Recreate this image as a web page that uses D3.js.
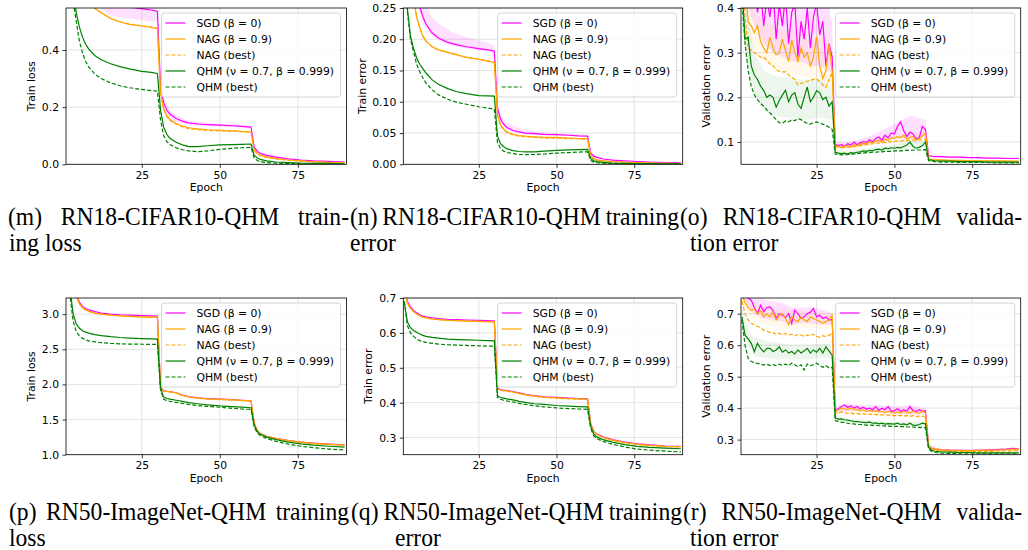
<!DOCTYPE html>
<html>
<head>
<meta charset="utf-8">
<script src="https://cdn.jsdelivr.net/npm/d3@7"></script>
<style>
  body { margin: 0; background: #fff; }
  svg { display: block; }
</style>
</head>
<body>
<script>
// ---- data ----
var seriesLabels = ["SGD (β = 0)", "NAG (β = 0.9)", "NAG (best)", "QHM (ν = 0.7, β = 0.999)", "QHM (best)"];
var xTicks = [25, 50, 75];

// training curves: sampled epochs
var smoothEpochs = [1,2,3,4,5,6,7,8, 10,12,15,18,21,25,28,30, 31,32,33,34,36,38,40,43, 46,50,54,57,60, 61,62,63,65,68,72,76,80, 85,90];

// (m) RN18-CIFAR10 train loss
var c10LossSGD = [1.6,1.15,0.95,0.84,0.76,0.71,0.67,0.64, 0.61,0.59,0.56,0.553,0.55,0.545,0.54,0.535, 0.27,0.215,0.19,0.176,0.16,0.151,0.145,0.141, 0.139,0.137,0.135,0.133,0.13, 0.06,0.045,0.038,0.031,0.025,0.019,0.015,0.012, 0.01,0.008];
var c10LossNAG = [1.4,1.0,0.84,0.74,0.68,0.64,0.61,0.585, 0.545,0.53,0.51,0.498,0.49,0.484,0.479,0.475, 0.25,0.195,0.17,0.157,0.143,0.134,0.128,0.124, 0.121,0.119,0.117,0.115,0.113, 0.05,0.038,0.032,0.026,0.02,0.015,0.012,0.009, 0.007,0.006];
var c10LossNAGBest = [1.4,1.0,0.84,0.74,0.68,0.64,0.61,0.585, 0.546,0.531,0.511,0.499,0.491,0.485,0.48,0.476, 0.248,0.192,0.167,0.154,0.14,0.131,0.125,0.121, 0.119,0.117,0.116,0.114,0.112, 0.048,0.036,0.03,0.024,0.019,0.014,0.011,0.008, 0.006,0.005];
var c10LossQHM = [1.1,0.78,0.62,0.53,0.48,0.445,0.42,0.403, 0.38,0.366,0.352,0.342,0.334,0.325,0.322,0.318, 0.19,0.13,0.105,0.091,0.077,0.068,0.062,0.062, 0.065,0.068,0.069,0.07,0.071, 0.032,0.022,0.017,0.012,0.008,0.006,0.004,0.003, 0.003,0.002];
var c10LossQHMBest = [1.05,0.74,0.57,0.5,0.43,0.39,0.36,0.34, 0.315,0.3,0.285,0.275,0.268,0.262,0.258,0.256, 0.155,0.1,0.08,0.069,0.058,0.051,0.047,0.044, 0.047,0.052,0.056,0.058,0.059, 0.022,0.013,0.009,0.006,0.004,0.003,0.002,0.002, 0.001,0.001];
var c10LossBandEpochs = [10,15,20,25,28,30,31,32,34,36,40,45,50,55,60,61,63,70];
var c10LossSGDLo = [0.56,0.52,0.51,0.505,0.5,0.5,0.25,0.19,0.16,0.147,0.138,0.133,0.132,0.13,0.127,0.055,0.035,0.022];
var c10LossSGDHi = [0.66,0.6,0.59,0.585,0.58,0.565,0.29,0.235,0.19,0.172,0.152,0.146,0.142,0.14,0.135,0.065,0.041,0.027];

// (n) RN18-CIFAR10 train error
var c10ErrSGD = [0.6,0.45,0.36,0.31,0.275,0.252,0.236,0.224, 0.21,0.202,0.195,0.191,0.188,0.185,0.183,0.181, 0.09,0.072,0.064,0.059,0.054,0.052,0.05,0.049, 0.048,0.0475,0.0465,0.0455,0.045, 0.018,0.013,0.011,0.0085,0.0068,0.0055,0.0045,0.0035, 0.0028,0.0022];
var c10ErrNAG = [0.55,0.4,0.32,0.265,0.236,0.218,0.205,0.197, 0.188,0.183,0.179,0.175,0.171,0.168,0.165,0.163, 0.08,0.063,0.056,0.052,0.048,0.046,0.045,0.044, 0.043,0.043,0.042,0.041,0.041, 0.014,0.009,0.007,0.0055,0.0042,0.0033,0.0026,0.002, 0.0016,0.0013];
var c10ErrNAGBest = [0.55,0.4,0.32,0.265,0.236,0.218,0.205,0.197, 0.188,0.183,0.179,0.175,0.171,0.168,0.165,0.163, 0.079,0.062,0.055,0.051,0.047,0.045,0.044,0.043, 0.042,0.042,0.041,0.041,0.04, 0.013,0.0085,0.0065,0.005,0.004,0.003,0.0024,0.0019, 0.0015,0.0012];
var c10ErrQHM = [0.36,0.25,0.205,0.185,0.17,0.16,0.153,0.146, 0.135,0.128,0.121,0.116,0.113,0.11,0.1095,0.109, 0.045,0.033,0.028,0.025,0.022,0.0205,0.0198,0.02, 0.021,0.0223,0.023,0.0235,0.024, 0.009,0.0055,0.0042,0.003,0.002,0.0015,0.0012,0.001, 0.0008,0.0006];
var c10ErrQHMBest = [0.35,0.245,0.2,0.18,0.16,0.148,0.138,0.13, 0.119,0.111,0.104,0.099,0.096,0.092,0.09,0.088, 0.035,0.025,0.021,0.019,0.017,0.016,0.0155,0.0158, 0.0165,0.0178,0.0188,0.0195,0.02, 0.006,0.0035,0.0026,0.0018,0.0012,0.0009,0.0007,0.0005, 0.0004,0.0003];
var c10ErrBandEpochs = [5,7,10,13,16,20,25,28,30,31,32,34,37,40,45,50,55,60,61,63,70];
var c10ErrSGDLo = [0.26,0.225,0.205,0.196,0.19,0.186,0.182,0.18,0.178,0.085,0.068,0.056,0.05,0.048,0.046,0.046,0.045,0.044,0.017,0.01,0.005];
var c10ErrSGDHi = [0.30,0.265,0.235,0.222,0.212,0.205,0.198,0.194,0.19,0.1,0.08,0.067,0.06,0.055,0.052,0.05,0.048,0.047,0.02,0.012,0.006];

// (p) RN50-ImageNet train loss
var inLossSGD = [5.2,4.1,3.55,3.28,3.17,3.11,3.08,3.06, 3.035,3.015,3.0,2.99,2.985,2.98,2.975,2.972, 1.97,1.91,1.903,1.898,1.882,1.848,1.828,1.808, 1.798,1.79,1.783,1.775,1.768, 1.45,1.34,1.3,1.262,1.232,1.202,1.18,1.164, 1.15,1.14];
var inLossNAG = [5.1,4.0,3.5,3.26,3.15,3.09,3.06,3.04, 3.015,3.0,2.985,2.975,2.968,2.962,2.958,2.955, 1.96,1.905,1.9,1.895,1.88,1.845,1.825,1.805, 1.795,1.787,1.78,1.772,1.765, 1.45,1.34,1.3,1.26,1.23,1.2,1.178,1.162, 1.148,1.138];
var inLossNAGBest = [5.1,4.0,3.5,3.26,3.15,3.09,3.06,3.04, 3.015,3.0,2.985,2.975,2.968,2.962,2.958,2.955, 1.958,1.903,1.898,1.893,1.878,1.843,1.823,1.803, 1.793,1.785,1.778,1.77,1.763, 1.448,1.338,1.298,1.258,1.228,1.198,1.176,1.16, 1.146,1.136];
var inLossQHM = [4.2,3.35,3.0,2.86,2.8,2.765,2.745,2.73, 2.71,2.695,2.68,2.668,2.66,2.652,2.648,2.645, 1.95,1.82,1.8,1.79,1.775,1.758,1.742,1.725, 1.71,1.695,1.685,1.677,1.668, 1.42,1.33,1.29,1.25,1.215,1.18,1.155,1.135, 1.12,1.108];
var inLossQHMBest = [4.0,3.25,2.9,2.75,2.69,2.655,2.635,2.62, 2.605,2.595,2.585,2.578,2.574,2.572,2.57,2.569, 1.92,1.79,1.77,1.76,1.745,1.73,1.715,1.7, 1.688,1.675,1.66,1.65,1.643, 1.4,1.31,1.27,1.23,1.19,1.15,1.12,1.1, 1.08,1.066];

// (q) RN50-ImageNet train error
var inErrSGD = [0.74,0.69,0.675,0.664,0.658,0.652,0.648,0.646, 0.643,0.641,0.639,0.638,0.637,0.636,0.635,0.634, 0.442,0.437,0.436,0.435,0.432,0.428,0.424,0.42, 0.417,0.415,0.413,0.412,0.411, 0.34,0.318,0.31,0.302,0.294,0.287,0.282,0.279, 0.276,0.275];
var inErrNAG = [0.73,0.685,0.67,0.661,0.654,0.649,0.645,0.643, 0.64,0.638,0.636,0.635,0.634,0.633,0.632,0.631, 0.44,0.436,0.435,0.434,0.431,0.427,0.423,0.419, 0.416,0.414,0.412,0.411,0.41, 0.338,0.317,0.309,0.301,0.293,0.286,0.281,0.278, 0.275,0.274];
var inErrNAGBest = [0.73,0.685,0.67,0.661,0.654,0.649,0.645,0.643, 0.64,0.638,0.636,0.635,0.634,0.633,0.632,0.631, 0.439,0.435,0.434,0.433,0.43,0.426,0.422,0.418, 0.415,0.413,0.411,0.41,0.409, 0.337,0.316,0.308,0.3,0.292,0.285,0.28,0.277, 0.274,0.273];
var inErrQHM = [0.69,0.632,0.615,0.607,0.602,0.597,0.593,0.59, 0.587,0.585,0.582,0.581,0.58,0.579,0.578,0.577, 0.42,0.415,0.413,0.411,0.408,0.404,0.401,0.397, 0.395,0.392,0.39,0.389,0.388, 0.332,0.31,0.302,0.294,0.287,0.28,0.275,0.272, 0.27,0.268];
var inErrQHMBest = [0.69,0.622,0.6,0.59,0.583,0.578,0.575,0.573, 0.57,0.568,0.566,0.565,0.564,0.563,0.562,0.562, 0.415,0.41,0.407,0.405,0.402,0.398,0.395,0.391, 0.388,0.385,0.383,0.382,0.381, 0.326,0.305,0.297,0.289,0.281,0.273,0.267,0.264, 0.261,0.259];

// validation curves: every epoch up to 60, sparser after
var valEpochs = [1,2,3,4,5,6,7,8,9,10, 11,12,13,14,15,16,17,18,19,20, 21,22,23,24,25,26,27,28,29,30,
  31,32,33,34,35,36,37,38,39,40, 41,42,43,44,45,46,47,48,49,50, 51,52,53,54,55,56,57,58,59,60,
  61,62,63,65,68,71,74,77,80,83,86,88,90];
var valBandEpochs = [1,3,5,8,11,14,17,20,23,26,29,30,31,35,40,45,50,55,60,61,65,75,90];

// (o) RN18-CIFAR10 validation error
var c10ValSGD = [0.66,0.55,0.47,0.43,0.45,0.39,0.44,0.36,0.42,0.38, 0.44,0.33,0.41,0.36,0.43,0.32,0.39,0.41,0.29,0.37, 0.33,0.40,0.31,0.38,0.41,0.34,0.37,0.27,0.32,0.29,
  0.095,0.092,0.094,0.09,0.096,0.093,0.1,0.094,0.098,0.101, 0.099,0.105,0.1,0.108,0.111,0.104,0.115,0.109,0.12,0.118, 0.135,0.145,0.125,0.112,0.122,0.118,0.107,0.11,0.135,0.128,
  0.069,0.068,0.067,0.067,0.066,0.066,0.065,0.065,0.064,0.064,0.063,0.063,0.063];
var c10ValNAG = [0.6,0.46,0.37,0.36,0.345,0.36,0.325,0.31,0.30,0.335, 0.31,0.295,0.30,0.33,0.305,0.28,0.328,0.30,0.28,0.31, 0.29,0.30,0.27,0.29,0.336,0.27,0.242,0.26,0.32,0.26,
  0.092,0.09,0.088,0.09,0.092,0.089,0.094,0.092,0.095,0.097, 0.096,0.1,0.098,0.102,0.104,0.1,0.106,0.103,0.109,0.108, 0.112,0.11,0.115,0.106,0.11,0.112,0.104,0.108,0.114,0.12,
  0.062,0.061,0.06,0.06,0.059,0.059,0.058,0.058,0.058,0.058,0.057,0.057,0.057];
var c10ValNAGBest = [0.55,0.38,0.31,0.306,0.30,0.295,0.29,0.29,0.283,0.275, 0.27,0.262,0.258,0.257,0.257,0.25,0.245,0.24,0.228,0.232, 0.232,0.236,0.238,0.24,0.242,0.235,0.228,0.222,0.24,0.255,
  0.09,0.088,0.087,0.088,0.089,0.088,0.09,0.091,0.092,0.093, 0.094,0.095,0.096,0.097,0.098,0.098,0.099,0.1,0.1,0.101, 0.102,0.102,0.103,0.103,0.104,0.104,0.104,0.105,0.105,0.106,
  0.061,0.06,0.059,0.059,0.058,0.058,0.058,0.057,0.057,0.057,0.057,0.056,0.056];
var c10ValQHM = [0.45,0.33,0.335,0.27,0.25,0.24,0.225,0.215,0.2,0.205, 0.2,0.178,0.193,0.205,0.216,0.19,0.205,0.21,0.185,0.175, 0.2,0.223,0.19,0.2,0.215,0.21,0.195,0.2,0.18,0.19,
  0.077,0.075,0.074,0.075,0.073,0.076,0.075,0.077,0.078,0.08, 0.079,0.081,0.08,0.083,0.084,0.082,0.086,0.085,0.087,0.086, 0.088,0.087,0.09,0.093,0.1,0.09,0.086,0.088,0.092,0.1,
  0.06,0.059,0.058,0.057,0.057,0.056,0.056,0.056,0.055,0.055,0.055,0.055,0.055];
var c10ValQHMBest = [0.42,0.32,0.26,0.225,0.205,0.195,0.186,0.18,0.172,0.165, 0.158,0.15,0.143,0.142,0.147,0.145,0.15,0.148,0.152,0.15, 0.145,0.142,0.14,0.143,0.145,0.142,0.14,0.137,0.133,0.128,
  0.073,0.072,0.071,0.071,0.072,0.072,0.073,0.074,0.075,0.075, 0.076,0.076,0.077,0.077,0.078,0.078,0.079,0.079,0.079,0.08, 0.08,0.08,0.081,0.081,0.081,0.082,0.082,0.082,0.082,0.083,
  0.058,0.057,0.056,0.055,0.055,0.054,0.054,0.054,0.054,0.053,0.053,0.053,0.053];
var c10ValSGDLo = [0.5,0.4,0.36,0.32,0.3,0.29,0.28,0.28, 0.27,0.27,0.26,0.25,0.088,0.087,0.092,0.1, 0.108,0.108,0.11,0.066,0.064,0.063,0.061];
var c10ValSGDHi = [0.7,0.55,0.5,0.48,0.47,0.46,0.45,0.45, 0.44,0.43,0.4,0.36,0.1,0.1,0.108,0.122, 0.14,0.16,0.15,0.072,0.069,0.067,0.065];
var c10ValNAGLo = [0.48,0.34,0.3,0.28,0.27,0.26,0.25,0.25, 0.24,0.24,0.23,0.23,0.086,0.085,0.09,0.097, 0.1,0.102,0.108,0.06,0.058,0.057,0.056];
var c10ValNAGHi = [0.65,0.45,0.39,0.37,0.36,0.35,0.35,0.34, 0.33,0.33,0.33,0.3,0.096,0.096,0.102,0.11, 0.115,0.12,0.125,0.064,0.062,0.06,0.059];
var c10ValQHMLo = [0.36,0.27,0.21,0.17,0.16,0.155,0.155,0.15, 0.15,0.155,0.15,0.15,0.072,0.071,0.074,0.078, 0.081,0.085,0.088,0.058,0.056,0.054,0.054];
var c10ValQHMHi = [0.5,0.38,0.3,0.26,0.25,0.245,0.245,0.24, 0.24,0.24,0.23,0.22,0.082,0.08,0.085,0.09, 0.094,0.102,0.105,0.062,0.06,0.057,0.056];

// (r) RN50-ImageNet validation error
var inValSGD = [0.82,0.77,0.75,0.743,0.72,0.701,0.727,0.706,0.72,0.722, 0.71,0.685,0.70,0.695,0.688,0.70,0.669,0.712,0.70,0.685, 0.69,0.70,0.705,0.717,0.69,0.695,0.685,0.69,0.68,0.682,
  0.395,0.398,0.405,0.41,0.402,0.408,0.40,0.405,0.398,0.403, 0.397,0.40,0.395,0.405,0.393,0.40,0.395,0.405,0.39,0.392, 0.398,0.39,0.395,0.39,0.405,0.392,0.39,0.395,0.39,0.392,
  0.28,0.272,0.27,0.268,0.266,0.266,0.265,0.266,0.267,0.268,0.27,0.272,0.27];
var inValNAG = [0.76,0.735,0.72,0.71,0.715,0.70,0.71,0.69,0.70,0.69, 0.705,0.68,0.695,0.70,0.685,0.665,0.69,0.68,0.675,0.69, 0.68,0.675,0.69,0.685,0.68,0.675,0.67,0.675,0.68,0.695,
  0.39,0.395,0.40,0.398,0.395,0.40,0.397,0.395,0.392,0.394, 0.39,0.393,0.39,0.392,0.388,0.39,0.386,0.39,0.387,0.385, 0.388,0.385,0.39,0.387,0.385,0.39,0.386,0.384,0.39,0.385,
  0.28,0.272,0.27,0.268,0.266,0.265,0.265,0.266,0.266,0.267,0.268,0.27,0.27];
var inValNAGBest = [0.74,0.70,0.68,0.67,0.664,0.66,0.655,0.648,0.645,0.64, 0.64,0.635,0.638,0.633,0.637,0.632,0.635,0.63,0.634,0.632, 0.628,0.633,0.63,0.635,0.628,0.625,0.63,0.627,0.632,0.64,
  0.385,0.385,0.388,0.385,0.383,0.385,0.382,0.383,0.38,0.382, 0.38,0.381,0.379,0.38,0.378,0.379,0.377,0.378,0.376,0.377, 0.376,0.377,0.375,0.376,0.374,0.376,0.373,0.375,0.374,0.37,
  0.276,0.268,0.266,0.264,0.263,0.262,0.262,0.262,0.262,0.263,0.263,0.264,0.264];
var inValQHM = [0.69,0.632,0.62,0.606,0.579,0.606,0.59,0.579,0.59,0.59, 0.58,0.585,0.595,0.578,0.585,0.575,0.58,0.572,0.585,0.575, 0.582,0.59,0.575,0.585,0.578,0.59,0.575,0.595,0.582,0.568,
  0.368,0.365,0.366,0.363,0.362,0.36,0.358,0.357,0.356,0.355, 0.354,0.356,0.352,0.353,0.35,0.352,0.349,0.351,0.35,0.349, 0.352,0.348,0.35,0.347,0.352,0.346,0.345,0.348,0.352,0.35,
  0.275,0.266,0.263,0.261,0.26,0.259,0.259,0.258,0.258,0.258,0.258,0.258,0.258];
var inValQHMBest = [0.68,0.6,0.558,0.548,0.545,0.542,0.54,0.537,0.54,0.535, 0.538,0.535,0.54,0.536,0.54,0.535,0.543,0.538,0.532,0.538, 0.521,0.54,0.535,0.538,0.543,0.535,0.53,0.535,0.528,0.53,
  0.36,0.358,0.355,0.355,0.352,0.35,0.35,0.348,0.348,0.347, 0.346,0.346,0.345,0.345,0.344,0.344,0.343,0.343,0.342,0.342, 0.342,0.341,0.341,0.34,0.34,0.34,0.339,0.339,0.338,0.338,
  0.27,0.262,0.259,0.257,0.256,0.255,0.255,0.255,0.255,0.255,0.255,0.255,0.255];
var inValSGDLo = [0.76,0.72,0.70,0.685,0.68,0.675,0.665,0.67, 0.67,0.665,0.665,0.665,0.385,0.39,0.39,0.385, 0.383,0.38,0.382,0.275,0.264,0.263,0.265];
var inValSGDHi = [0.84,0.78,0.76,0.745,0.74,0.735,0.72,0.72, 0.72,0.715,0.705,0.70,0.405,0.415,0.41,0.41, 0.405,0.41,0.4,0.285,0.27,0.27,0.275];
var inValNAGLo = [0.74,0.7,0.68,0.665,0.66,0.655,0.65,0.655, 0.655,0.65,0.655,0.67,0.382,0.385,0.382,0.378, 0.377,0.375,0.375,0.275,0.262,0.262,0.265];
var inValNAGHi = [0.78,0.74,0.735,0.725,0.72,0.715,0.71,0.71, 0.705,0.7,0.7,0.705,0.398,0.405,0.4,0.398, 0.395,0.395,0.395,0.285,0.27,0.27,0.274];
var inValQHMLo = [0.68,0.6,0.565,0.56,0.555,0.555,0.555,0.555, 0.555,0.56,0.56,0.555,0.36,0.355,0.348,0.344, 0.342,0.34,0.342,0.27,0.257,0.256,0.256];
var inValQHMHi = [0.72,0.65,0.625,0.615,0.61,0.605,0.6,0.6, 0.6,0.605,0.605,0.58,0.375,0.368,0.362,0.358, 0.357,0.358,0.358,0.28,0.262,0.261,0.26];

// ---- styles / layout ----
var MAGENTA = "#ff00ff", ORANGE = "#ffa500", GREEN = "#008000";
var seriesColors = [MAGENTA, ORANGE, ORANGE, GREEN, GREEN];
var seriesDash = [null, null, "4,2", null, "4,2"];
var bandOpacity = { [MAGENTA]: 0.12, [ORANGE]: 0.08, [GREEN]: 0.07 };
var xDomain = [0.7, 90.6];
var colX = [[66, 346.5], [403.3, 682.7], [741, 1020.7]];
var rowY = [[8, 164.3], [298, 454.7]];
var FONT = "'DejaVu Sans', sans-serif";

var panels = [
  { col: 0, row: 0, epochs: smoothEpochs, ylabel: "Train loss", yDomain: [0, 0.547], yTicks: [0, 0.2, 0.4], fmt: ".1f",
    series: [c10LossSGD, c10LossNAG, c10LossNAGBest, c10LossQHM, c10LossQHMBest],
    bands: [{ epochs: c10LossBandEpochs, lo: c10LossSGDLo, hi: c10LossSGDHi, color: MAGENTA }] },
  { col: 1, row: 0, epochs: smoothEpochs, ylabel: "Train error", yDomain: [0, 0.25], yTicks: [0, 0.05, 0.1, 0.15, 0.2, 0.25], fmt: ".2f",
    series: [c10ErrSGD, c10ErrNAG, c10ErrNAGBest, c10ErrQHM, c10ErrQHMBest],
    bands: [{ epochs: c10ErrBandEpochs, lo: c10ErrSGDLo, hi: c10ErrSGDHi, color: MAGENTA }] },
  { col: 2, row: 0, epochs: valEpochs, ylabel: "Validation error", yDomain: [0.05, 0.4], yTicks: [0.1, 0.2, 0.3, 0.4], fmt: ".1f",
    series: [c10ValSGD, c10ValNAG, c10ValNAGBest, c10ValQHM, c10ValQHMBest],
    bands: [{ epochs: valBandEpochs, lo: c10ValSGDLo, hi: c10ValSGDHi, color: MAGENTA },
            { epochs: valBandEpochs, lo: c10ValNAGLo, hi: c10ValNAGHi, color: ORANGE },
            { epochs: valBandEpochs, lo: c10ValQHMLo, hi: c10ValQHMHi, color: GREEN }] },
  { col: 0, row: 1, epochs: smoothEpochs, ylabel: "Train loss", yDomain: [1.0, 3.23], yTicks: [1.0, 1.5, 2.0, 2.5, 3.0], fmt: ".1f",
    series: [inLossSGD, inLossNAG, inLossNAGBest, inLossQHM, inLossQHMBest], bands: [] },
  { col: 1, row: 1, epochs: smoothEpochs, ylabel: "Train error", yDomain: [0.251, 0.7], yTicks: [0.3, 0.4, 0.5, 0.6, 0.7], fmt: ".1f",
    series: [inErrSGD, inErrNAG, inErrNAGBest, inErrQHM, inErrQHMBest], bands: [] },
  { col: 2, row: 1, epochs: valEpochs, ylabel: "Validation error", yDomain: [0.252, 0.75], yTicks: [0.3, 0.4, 0.5, 0.6, 0.7], fmt: ".1f",
    series: [inValSGD, inValNAG, inValNAGBest, inValQHM, inValQHMBest],
    bands: [{ epochs: valBandEpochs, lo: inValSGDLo, hi: inValSGDHi, color: MAGENTA },
            { epochs: valBandEpochs, lo: inValNAGLo, hi: inValNAGHi, color: ORANGE },
            { epochs: valBandEpochs, lo: inValQHMLo, hi: inValQHMHi, color: GREEN }] }
];

var svg = d3.select("body").append("svg")
  .attr("width", 1028)
  .attr("height", 550);

panels.forEach(function(p, pi) {
  var x0 = colX[p.col][0], x1 = colX[p.col][1];
  var y0 = rowY[p.row][0], y1 = rowY[p.row][1];
  var w = x1 - x0, h = y1 - y0;
  var g = svg.append("g").attr("transform", `translate(${x0},${y0})`);

  var x = d3.scaleLinear().domain(xDomain).range([0, w]);
  var y = d3.scaleLinear().domain(p.yDomain).range([h, 0]);

  // grid
  g.append("g").selectAll("line").data(xTicks).join("line")
    .attr("x1", d => x(d)).attr("x2", d => x(d))
    .attr("y1", 0).attr("y2", h)
    .attr("stroke", "#dcdcdc").attr("stroke-width", 0.8);
  g.append("g").selectAll("line").data(p.yTicks).join("line")
    .attr("x1", 0).attr("x2", w)
    .attr("y1", d => y(d)).attr("y2", d => y(d))
    .attr("stroke", "#dcdcdc").attr("stroke-width", 0.8);

  g.append("clipPath").attr("id", "clip" + pi)
    .append("rect").attr("width", w).attr("height", h);
  var plot = g.append("g").attr("clip-path", `url(#clip${pi})`);

  // std bands
  p.bands.forEach(function(b) {
    var area = d3.area()
      .x((d, i) => x(b.epochs[i]))
      .y0((d, i) => y(b.lo[i]))
      .y1((d, i) => y(b.hi[i]));
    plot.append("path").datum(b.lo)
      .attr("d", area)
      .attr("fill", b.color)
      .attr("fill-opacity", bandOpacity[b.color]);
  });

  // curves
  var line = d3.line().x(d => x(d[0])).y(d => y(d[1]));
  p.series.forEach(function(vals, si) {
    plot.append("path")
      .datum(p.epochs.map((e, i) => [e, vals[i]]))
      .attr("d", line)
      .attr("fill", "none")
      .attr("stroke", seriesColors[si])
      .attr("stroke-width", 1.2)
      .attr("stroke-dasharray", seriesDash[si]);
  });

  // axes
  var yAxis = g.append("g")
    .call(d3.axisLeft(y).tickValues(p.yTicks).tickFormat(d3.format(p.fmt)).tickSize(3.5).tickPadding(3.5));
  var xAxis = g.append("g")
    .attr("transform", `translate(0,${h})`)
    .call(d3.axisBottom(x).tickValues(xTicks).tickFormat(d3.format("d")).tickSize(3.5).tickPadding(3.5));
  [xAxis, yAxis].forEach(function(a) {
    a.attr("font-family", FONT).attr("font-size", 10.8);
    a.select(".domain").remove();
    a.selectAll("line").attr("stroke", "#000").attr("stroke-width", 0.8);
    a.selectAll("text").attr("fill", "#000");
  });

  g.append("rect")
    .attr("width", w).attr("height", h)
    .attr("fill", "none")
    .attr("stroke", "#000").attr("stroke-width", 0.8);

  // axis labels
  var maxW = d3.max(yAxis.selectAll("text").nodes(), n => n.getBBox().width);
  g.append("text")
    .attr("transform", `translate(${-7 - maxW - 6.5},${h / 2}) rotate(-90)`)
    .attr("text-anchor", "middle")
    .attr("font-family", FONT).attr("font-size", 10.8)
    .text(p.ylabel);
  g.append("text")
    .attr("x", w / 2).attr("y", h + 27)
    .attr("text-anchor", "middle")
    .attr("font-family", FONT).attr("font-size", 10.8)
    .text("Epoch");

  // legend
  var lw = 179, lh = 84;
  var lg = g.append("g").attr("transform", `translate(${w - 6 - lw},5)`);
  lg.append("rect")
    .attr("width", lw).attr("height", lh).attr("rx", 2.5)
    .attr("fill", "#fff").attr("fill-opacity", 0.8)
    .attr("stroke", "#cccccc").attr("stroke-width", 0.8);
  seriesLabels.forEach(function(lab, i) {
    var yy = 10 + i * 16;
    lg.append("line")
      .attr("x1", 4).attr("x2", 24).attr("y1", yy).attr("y2", yy)
      .attr("stroke", seriesColors[i]).attr("stroke-width", 1.2)
      .attr("stroke-dasharray", seriesDash[i]);
    lg.append("text")
      .attr("x", 35).attr("y", yy).attr("dy", "0.35em")
      .attr("font-family", FONT).attr("font-size", 10.8)
      .text(lab);
  });
});

// ---- sub-captions (justified like the LaTeX layout) ----
// the page glyphs are slightly narrow, so the serif text is squeezed horizontally
var CAPFONT = "'Liberation Serif', 'Times New Roman', serif";
var CAPSIZE = 25, CAPSX = 0.944;
function captionText(str, xx, yy) {
  return svg.append("text")
    .attr("transform", `translate(${xx},${yy}) scale(${CAPSX},1)`)
    .attr("font-family", CAPFONT).attr("font-size", CAPSIZE)
    .attr("fill", "#000")
    .text(str);
}
function justified(words, xa, xb, yy) {
  var texts = words.map(wd => captionText(wd, xa, yy));
  var widths = texts.map(t => t.node().getComputedTextLength() * CAPSX);
  var gap = (xb - xa - d3.sum(widths)) / (words.length - 1);
  var cx = xa;
  texts.forEach(function(t, i) {
    t.attr("transform", `translate(${cx},${yy}) scale(${CAPSX},1)`);
    cx += widths[i] + gap;
  });
}

justified(["(m)", "RN18-CIFAR10-QHM", "train-"], 8, 349, 225);
justified(["(n)", "RN18-CIFAR10-QHM", "training"], 350, 679, 225);
justified(["(o)", "RN18-CIFAR10-QHM", "valida-"], 680, 1022, 225);
captionText("ing loss", 9, 251);
captionText("error", 350, 251);
captionText("tion error", 690, 251);

justified(["(p)", "RN50-ImageNet-QHM", "training"], 9, 349, 520);
justified(["(q)", "RN50-ImageNet-QHM", "training"], 351, 682, 520);
justified(["(r)", "RN50-ImageNet-QHM", "valida-"], 683, 1022, 520);
captionText("loss", 9, 546);
captionText("error", 395, 546);
captionText("tion error", 690, 546);
</script>
</body>
</html>
